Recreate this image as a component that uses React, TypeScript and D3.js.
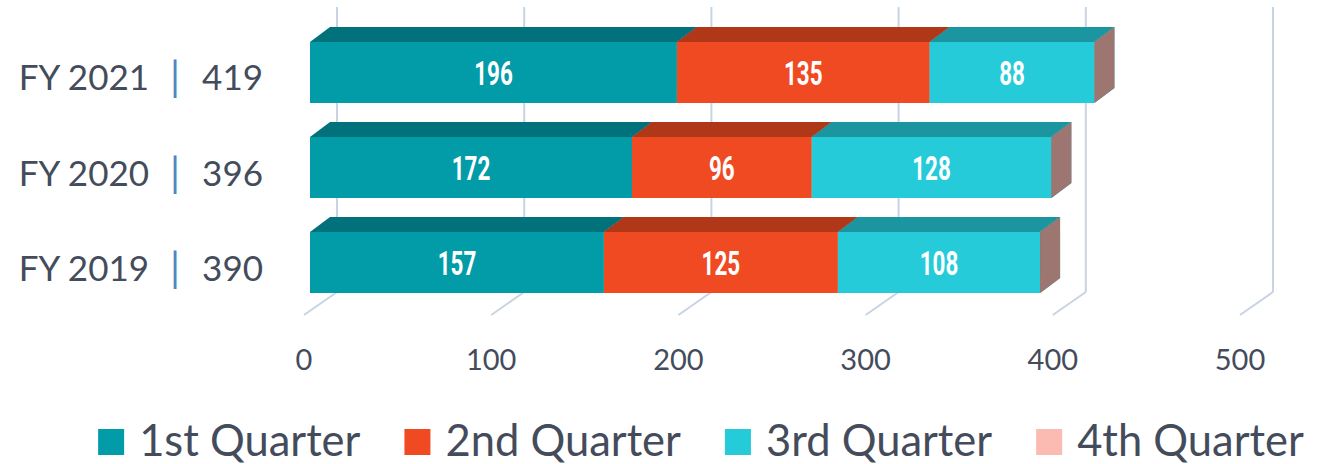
import React, { useEffect, useRef } from 'react';
import * as d3 from 'd3';

const years = ['2021', '2020', '2019'];
const series = ['1st Quarter', '2nd Quarter', '3rd Quarter', '4th Quarter'];
const q1 = [196, 172, 157];
const q2 = [135, 96, 125];
const q3 = [88, 128, 108];
const q4 = [0, 0, 0];
const colors = ['#029ba8', '#f04a22', '#25cbd8', '#fbbbb3'];
const xTicks = [0, 100, 200, 300, 400, 500];

const W = 1317;
const H = 464;

const App = () => {
  const ref = useRef(null);

  useEffect(() => {
    document.body.style.margin = '0';
    const svg = d3.select(ref.current);
    svg.selectAll('*').remove();

    const font = 'Lato, "Open Sans", sans-serif';
    const textColor = '#444c5c';
    const gridColor = '#c8d4e2';

    const x = d3.scaleLinear().domain([0, 500]).range([310, 1246]);
    const y = d3.scaleBand().domain(years).range([42, 293]).paddingInner(0.358);

    // depth of the boxes and of the floor
    const dx = 20, dy = -15;
    const backX = 27, frontX = -6;
    const wallTop = 7, wallBase = 292, floorFront = 315;

    // gridlines on back wall + floor diagonals
    const grid = svg.append('g');
    xTicks.forEach(t => {
      grid.append('line')
        .attr('x1', x(t) + backX).attr('x2', x(t) + backX)
        .attr('y1', wallTop).attr('y2', wallBase)
        .attr('stroke', gridColor).attr('stroke-width', 2);
      grid.append('line')
        .attr('x1', x(t) + backX).attr('y1', wallBase)
        .attr('x2', x(t) + frontX).attr('y2', floorFront)
        .attr('stroke', gridColor).attr('stroke-width', 2);
    });

    const values = [q1, q2, q3, q4];
    const rows = years.map((yr, i) => {
      const row: any = { year: yr };
      series.forEach((s, j) => { row[s] = values[j][i]; });
      return row;
    });
    const stacked = d3.stack().keys(series)(rows);

    const bars = svg.append('g');
    years.forEach((yr, i) => {
      const top = y(yr)!;
      const h = y.bandwidth();
      stacked.forEach((layer, j) => {
        const d = layer[i];
        const x0 = x(d[0]), x1 = x(d[1]);
        const c = colors[j];
        // top face
        bars.append('path')
          .attr('d', `M${x0},${top}L${x0 + dx},${top + dy}L${x1 + dx},${top + dy}L${x1},${top}Z`)
          .attr('fill', d3.rgb(c).darker(0.85).toString());
        // right side face
        bars.append('path')
          .attr('d', `M${x1},${top}L${x1 + dx},${top + dy}L${x1 + dx},${top + h + dy}L${x1},${top + h}Z`)
          .attr('fill', d3.rgb(c).darker(1.3).toString());
        // front face
        if (x1 > x0) {
          bars.append('rect')
            .attr('x', x0).attr('y', top)
            .attr('width', x1 - x0).attr('height', h)
            .attr('fill', c);
          const cx = (x0 + x1) / 2;
          const cy = top + h / 2;
          bars.append('text')
            .attr('transform', `translate(${cx},${cy + 1}) scale(0.66,1)`)
            .attr('text-anchor', 'middle')
            .attr('dominant-baseline', 'central')
            .attr('fill', '#fff')
            .style('font-family', 'Roboto, sans-serif')
            .style('font-weight', 'bold')
            .style('font-size', '34px')
            .text(d[1] - d[0]);
        }
      });
    });

    // category labels
    years.forEach((yr, i) => {
      const total = q1[i] + q2[i] + q3[i] + q4[i];
      const t = svg.append('text')
        .attr('x', 263)
        .attr('y', y(yr)! + y.bandwidth() / 2 + 4)
        .attr('text-anchor', 'end')
        .attr('dominant-baseline', 'central')
        .attr('fill', textColor)
        .style('font-family', font)
        .style('font-size', '35px');
      t.append('tspan').text(`FY ${yr}`);
      t.append('tspan').attr('dx', 21).attr('fill', '#4f86c0').style('font-size', '40px').text('|');
      t.append('tspan').attr('dx', 22).text(total);
    });

    // x tick labels
    xTicks.forEach(t => {
      svg.append('text')
        .attr('x', x(t) + frontX)
        .attr('y', 358)
        .attr('text-anchor', 'middle')
        .attr('dominant-baseline', 'central')
        .attr('fill', textColor)
        .style('font-family', font)
        .style('font-size', '29px')
        .text(t);
    });

    // legend
    const legend = svg.append('g');
    const box = 26, gapText = 15, gapItem = 44;
    let cursor = 0;
    series.forEach((s, j) => {
      const g = legend.append('g').attr('transform', `translate(${cursor},0)`);
      g.append('rect').attr('x', 0).attr('y', -box / 2).attr('width', box).attr('height', box).attr('fill', colors[j]);
      const t = g.append('text')
        .attr('x', box + gapText)
        .attr('y', -3)
        .attr('dominant-baseline', 'central')
        .attr('fill', textColor)
        .style('font-family', font)
        .style('font-size', '43.5px')
        .text(s);
      const w = (t.node() as SVGTextElement).getComputedTextLength();
      cursor += box + gapText + w + gapItem;
    });
    const legendW = cursor - gapItem;
    legend.attr('transform', `translate(${(95 + 1307) / 2 - legendW / 2},442)`);
  }, []);

  return (
    <svg ref={ref} width={W} height={H} viewBox={`0 0 ${W} ${H}`} style={{ display: 'block', background: '#fff' }} />
  );
};

export default App;
